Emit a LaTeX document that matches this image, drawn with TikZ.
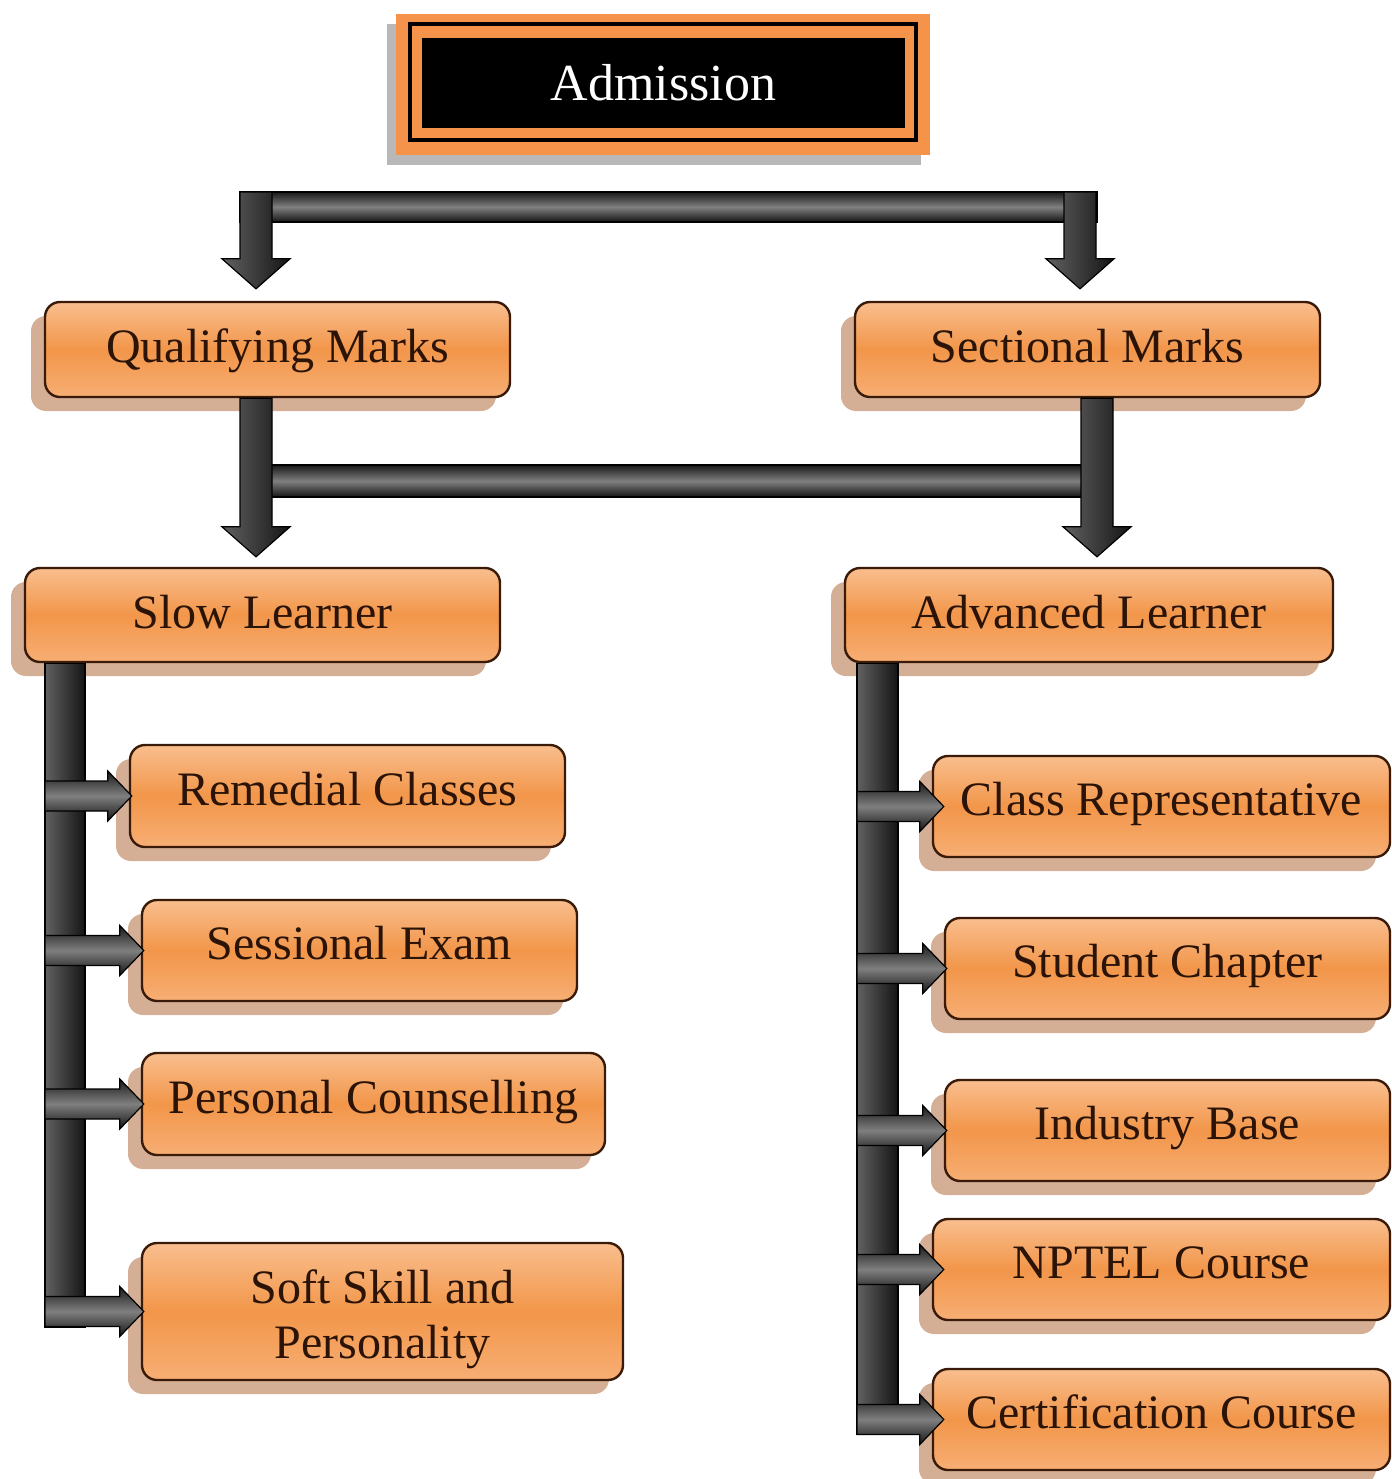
\documentclass[tikz,border=0pt]{standalone}
\usepackage{fontspec}
\setmainfont{Liberation Serif}
\usetikzlibrary{calc,shadows}
\definecolor{orA}{HTML}{F9BE8E}
\definecolor{orB}{HTML}{F2964A}
\definecolor{orC}{HTML}{F7AE74}
\definecolor{orF}{HTML}{F5934A}
\definecolor{txtc}{HTML}{2B1407}
\definecolor{edge}{HTML}{3A1A08}
\definecolor{shd}{HTML}{CFA68A}
\tikzset{
  boxfont/.style={text=txtc, font=\fontsize{24}{27.5}\selectfont},
  box/.style={draw=edge, line width=1.2pt, rounded corners=7.5pt,
    top color=orA, bottom color=orC, middle color=orB,
    boxfont, inner sep=0pt, align=center,
    drop shadow={shadow xshift=-7pt, shadow yshift=-7pt, fill=shd, opacity=0.9}},
  lvl/.style={box, text height=17pt, text depth=3.8pt},
  kid/.style={box, text height=17pt, text depth=7.6pt},
  vbar/.style={draw=black, line width=0.6pt, left color=black!62, right color=black!92},
  hbar/.style={draw=black, line width=0.6pt, top color=black!90, bottom color=black!92, middle color=black!50},
}
% down block arrow: #1 start of shaft (centre), #2 tip
\newcommand\dnarrow[2]{%
  \shadedraw[vbar] ($(#1)+(-16,0)$) -- ($(#1)+(16,0)$) -- ($(#2)+(16,-30)$) -- ($(#2)+(34,-30)$)
    -- (#2) -- ($(#2)+(-34,-30)$) -- ($(#2)+(-16,-30)$) -- cycle;}
% right block arrow: #1 start of shaft (centre), #2 tip
\newcommand\rtarrow[2]{%
  \shadedraw[hbar] ($(#1)+(0,-15)$) -- ($(#2)+(-24,-15)$) -- ($(#2)+(-24,-25)$) -- (#2)
    -- ($(#2)+(-24,25)$) -- ($(#2)+(-24,15)$) -- ($(#1)+(0,15)$) -- cycle;}
\begin{document}
\begin{tikzpicture}[x=0.5pt,y=-0.5pt]
\useasboundingbox (0,0) rectangle (1392,1479);
% Admission frame
\fill[black!28] (387,24) rectangle (921,165);
\fill[orF] (396,14) rectangle (930,155);
\draw[black, line width=2pt] (410,24) rectangle (916,140);
\node (adm) [fill=black, minimum width=241.5pt, minimum height=45pt, inner sep=0pt,
  text=white, font=\fontsize{26}{30}\selectfont] at (663.5,83) {Admission};

% level boxes
\node (qm) [lvl, minimum width=232.5pt, minimum height=47.5pt] at (277.5,349.5) {Qualifying Marks};
\node (sm) [lvl, minimum width=232.5pt, minimum height=47.5pt] at (1087.5,349.5) {Sectional Marks};
\node (sl) [lvl, minimum width=237.5pt, minimum height=47pt] at (262.5,615) {Slow Learner};
\node (al) [lvl, minimum width=244pt, minimum height=47pt] at (1089,615) {Advanced Learner};

% left column
\node (rc) [kid, minimum width=217.5pt, minimum height=51pt] at (347.5,796) {Remedial Classes};
\node (se) [kid, minimum width=217.5pt, minimum height=50.5pt] at (359.5,950.5) {Sessional Exam};
\node (pc) [kid, minimum width=231.5pt, minimum height=51pt] at (373.5,1104) {Personal Counselling};
\node (ss) [box, minimum width=240.5pt, minimum height=68.5pt,
  label={[boxfont, align=center, yshift=-4pt]center:Soft Skill and\\Personality}] at (382.5,1311.5) {};

% right column
\node (cr) [kid, minimum width=228.5pt, minimum height=50.5pt] at (1161.5,806.5) {Class Representative};
\node (sc) [kid, minimum width=222.5pt, minimum height=50.5pt] at (1167.5,968.5) {Student Chapter};
\node (ib) [kid, minimum width=222.5pt, minimum height=50.5pt] at (1167.5,1130.5) {Industry Base};
\node (np) [kid, minimum width=228.5pt, minimum height=50.5pt] at (1161.5,1269.5) {NPTEL Course};
\node (cc) [kid, minimum width=228.5pt, minimum height=50.5pt] at (1161.5,1419.5) {Certification Course};

% top connector: Admission -> Qualifying / Sectional
\coordinate (j1L) at (256,192);
\coordinate (j1R) at (1080,192);
\shadedraw[hbar] (240,192) rectangle (1097,222);
\dnarrow{j1L}{$(qm.north -| j1L)+(0,-12)$}
\dnarrow{j1R}{$(sm.north -| j1R)+(0,-12)$}

% second connector: Qualifying / Sectional -> Slow / Advanced
\coordinate (j2L) at (256,397);
\coordinate (j2R) at (1097,397);
\shadedraw[hbar] (262,465) rectangle (1090,497);
\dnarrow{qm.south -| j2L}{$(sl.north -| j2L)+(0,-10)$}
\dnarrow{sm.south -| j2R}{$(al.north -| j2R)+(0,-10)$}

% left trunk
\coordinate (tL) at (45,662);
\shadedraw[vbar] (sl.south -| tL) rectangle (85,1327);
\rtarrow{rc.west -| tL}{$(rc.west)+(3,0)$}
\rtarrow{se.west -| tL}{$(se.west)+(3,0)$}
\rtarrow{pc.west -| tL}{$(pc.west)+(3,0)$}
\rtarrow{ss.west -| tL}{$(ss.west)+(3,0)$}

% right trunk
\coordinate (tR) at (857,662);
\shadedraw[vbar] (al.south -| tR) rectangle (898,1434);
\rtarrow{cr.west -| tR}{$(cr.west)+(12,0)$}
\rtarrow{sc.west -| tR}{$(sc.west)+(3,0)$}
\rtarrow{ib.west -| tR}{$(ib.west)+(3,0)$}
\rtarrow{np.west -| tR}{$(np.west)+(12,0)$}
\rtarrow{cc.west -| tR}{$(cc.west)+(12,0)$}
\end{tikzpicture}
\end{document}
